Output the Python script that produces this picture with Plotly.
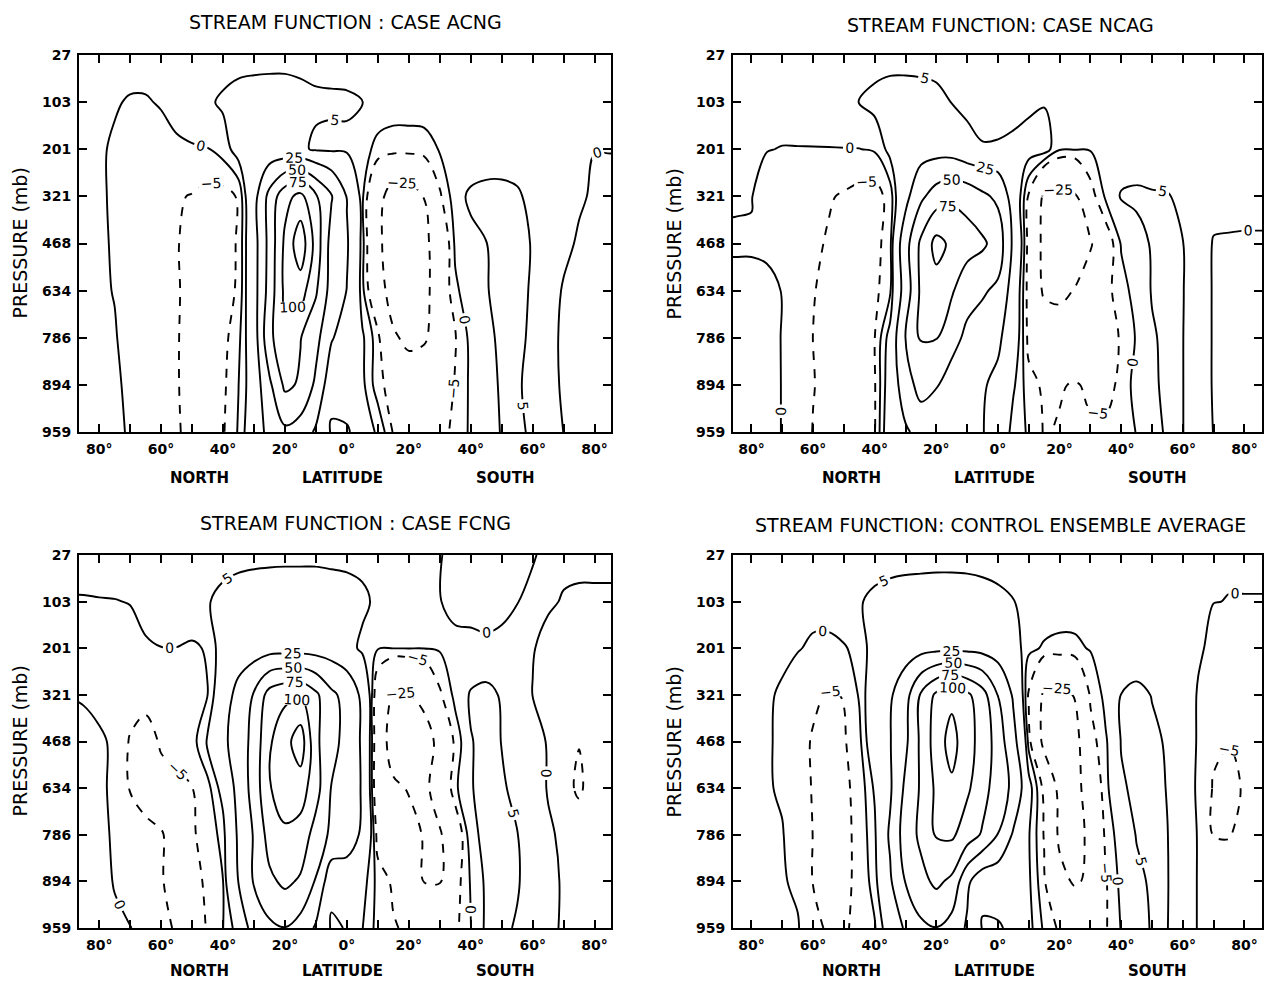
import plotly.graph_objects as go

# ---------------- data ----------------
LAT = list(range(-90, 95, 5))          # negative = North, positive = South
LEVEL_INDEX = list(range(9))           # model levels, equally spaced on the axis
PRESSURE_LABELS = ["27", "103", "201", "321", "468", "634", "786", "894", "959"]
LAT_TICKS = list(range(-80, 90, 10))
LAT_TICK_TEXT = ["80°", "", "60°", "", "40°", "", "20°", "", "0°", "",
                 "20°", "", "40°", "", "60°", "", "80°"]
LEVELS = [-25, -5, 0, 5, 25, 50, 75, 100, 125]

# stream function, rows = pressure levels (27 ... 959 mb),
# columns = LAT
ACNG = [
    [1, 1, 1, 1, 1, 1, 1, 1, 1, 1.5, 2, 2, 2, 2, 2, 2, 2, 2, 2,
     1.8, 1, 1, 1, 1, 1, 1, 1, 1, 1, 1, 1, 1, 1, 1, 1, 1, 1],
    [1, 1, 0.6, 0.2, -0.2, -0.2, 0.2, 1, 2, 4, 6, 8, 9, 9.5, 9.5, 8, 6.5, 6.2, 6,
     5.05, 3, 2, 2, 1.8, 1.6, 1.5, 1.4, 1.3, 1.3, 1.3, 1.2, 1.2, 1.1, 1, 1, 1, 1],
    [0.5, 0.5, 0.3, -0.3, -1, -1.5, -1, -0.5, -0.3, -0.2, 2, 8, 9, 10, 9, 7, 3.5, 3, 3.5,
     2, -1.5, -2, -2, -1.5, 0.3, 1, 1.2, 1.3, 1.4, 1.4, 1.3, 1.2, 1, 0.7, 0.05, 0.05, 0.05],
    [0.8, 0.8, 0.6, -0.6, -2, -3, -3.8, -4.5, -5.3, -7, -7, -4.5, 16, 58, 92, 107, 78, 52, 24,
     1, -18, -35, -34, -24.5, -6, 3, 6, 7, 7, 6, 3, 2, 1.5, 0.5, -0.5, -0.5, -0.5],
    [1, 0.8, 0.5, -0.3, -2, -3.5, -4.3, -4.8, -6, -7, -7.2, -4.5, 15, 58, 105, 142, 90, 40, 27,
     2, -20, -38, -38, -30, -14, 1, 3.5, 4.9, 6.5, 6.5, 4.7, 2.5, 1, -0.5, -0.8, -0.8, -0.8],
    [1, 0.8, 0.4, -0.1, -1.5, -3, -4, -4.7, -6, -7, -7.2, -4.3, 15, 60, 106, 112, 78, 40, 24.5,
     1.5, -15, -35, -37, -32, -12, -1, 3, 4.8, 6, 6, 4.6, 2, -0.4, -1, -1.2, -1, -1],
    [1, 0.9, 0.6, 0.2, -1, -2.8, -4, -4.8, -6, -6.8, -6.8, -1.5, 12, 70, 90, 76, 58, 27, 14,
     6, -3, -22, -30, -27, -17, -5.5, 1.5, 4, 5.8, 6, 4.2, 1.5, -0.8, -1.2, -1.3, -1.1, -1],
    [1, 0.9, 0.7, 0.4, -0.5, -2.5, -3.8, -4.8, -6, -6.5, -6.2, -0.1, 10, 45, 80, 72, 45, 9, 7.5,
     6.5, -3, -8, -12, -13, -10, -4.5, 1, 3.5, 5.5, 5.6, 3.6, 1.5, -0.6, -1.1, -1.2, -1, -1],
    [1, 0.9, 0.7, 0.4, -0.2, -2, -3.5, -4.7, -5.8, -6.2, -5.6, 0.5, 12, 32, 45, 38, 21.75, 3.5, 4.5,
     7, 4.5, -5.5, -6.5, -7, -6.5, -4, 1, 3.5, 5.2, 5.5, 4.6, 2, -0.05, -0.8, -1, -0.8, -0.8],
]

NCAG = [
    [0.8, 0.8, 0.8, 0.8, 0.8, 0.8, 0.8, 0.8, 1.2, 1.6, 2, 2.2, 2.3, 2.3, 2.2, 1.8, 1.5, 1.3, 1.2,
     1.1, 1, 1, 0.9, 0.8, 0.8, 0.8, 0.8, 0.8, 0.8, 0.8, 0.8, 0.8, 0.8, 0.8, 0.8, 0.8, 0.8],
    [1, 1, 1, 1, 1.2, 1.4, 1.6, 2, 3, 5.1, 7, 8.5, 8.5, 8, 7, 4.8, 3, 2, 2,
     2, 3.5, 4.6, 3, 2, 1.5, 1.4, 1.3, 1.2, 1.2, 1.2, 1.1, 1.1, 1, 1, 1, 1, 1],
    [0.5, 0.5, 0.3, 0.1, -0.1, -0.1, -0.1, -0.1, -0.1, -0.1, 0.5, 7, 12, 15, 16, 15, 8, 5.6, 5.8,
     7, 8, 8, 0.5, 0.3, 0.3, 0.8, 1.5, 1.8, 2, 2, 1.8, 1.5, 1.2, 1, 0.8, 0.8, 0.8],
    [0.2, 0.15, 0.1, -1.5, -2.5, -3, -3.6, -4.5, -5.6, -7, -7.5, -3, 18, 45, 62, 70, 66, 55, 45,
     14, -6, -28, -30, -27, -8, 1, 5.5, 6, 5.5, 5.3, 4, 2.5, 1.5, 1, 0.8, 0.8, 0.8],
    [-0.2, -0.2, -0.2, -0.3, -1, -2.5, -4, -5.5, -6.5, -7, -7.2, -2, 40, 80, 108, 95, 86, 79, 65,
     20, -8, -30, -36, -38, -27, -10, 0.5, 3, 5.5, 6, 5.1, 2.5, -0.3, -0.3, -0.3, -0.3, -0.3],
    [0.5, 0.5, 0.5, 0.4, -0.05, -2, -4.8, -6, -6.5, -6.8, -6.5, -1, 35, 80, 90, 78, 58, 53, 45,
     14, -8, -28, -30, -24, -14, -7, -2, 2, 5.3, 6, 5.2, 2, -0.3, -0.5, -0.5, -0.5, -0.5],
    [0.6, 0.6, 0.6, 0.4, -0.05, -2, -5.05, -6.2, -6.8, -7, -5.1, 8, 51, 77, 76, 58, 45, 37, 29,
     12, -7, -10, -13, -14, -13, -10, -4, 0.5, 4.5, 6, 5.1, 2, -0.3, -0.5, -0.5, -0.5, -0.5],
    [0.7, 0.7, 0.7, 0.5, -0.05, -2, -4.8, -6.5, -7, -7, -5.5, 10, 38, 60, 51, 40, 30, 27, 20,
     6, -3, -6, -5.5, -4.5, -6, -6.5, -4, 2.5, 4.6, 5.5, 5.1, 2, -0.3, -0.5, -0.5, -0.5, -0.5],
    [0.7, 0.7, 0.7, 0.5, -0.05, -2, -5.2, -6.5, -7, -7, -5.5, 12, 22, 32, 42, 38, 32, 26, 14,
     2, -0.5, -5.5, -4.5, -4, -4.2, -4, -2.5, 0.2, 4.5, 5.2, 5.1, 2, -0.1, -0.5, -0.5, -0.5, -0.5],
]

FCNG = [
    [0.3, 0.3, 0.5, 0.8, 1, 1.2, 1.4, 1.6, 1.8, 2, 2.3, 2.5, 2.8, 3, 3, 3, 3, 2.8, 2.6,
     2.2, 1.5, 1, 0.8, 0.5, 0.1, -0.5, -0.8, -1, -0.8, -0.5, -0.1, 0.3, 0.3, 0.3, 0.3, 0.3, 0.3],
    [-0.05, -0.05, -0.05, -0.05, 0.05, 0.8, 1.5, 2, 2.5, 4.5, 7, 9, 10, 10.5, 11, 11, 11, 10, 9,
     7, 3, 1.5, 1, 0.5, 0.1, -0.8, -1.5, -2, -1.5, -0.05, 0.3, 0.2, -0.1, -0.2, -0.2, -0.2, -0.2],
    [-0.8, -0.8, -0.8, -0.8, -0.6, -0.3, -0.05, -0.05, -0.5, 0.3, 9, 12, 14, 16, 16, 16, 15, 14, 9,
     3, 0.3, 0.1, 0.1, 0.1, 0.5, 0.8, 1.2, 1, 1.5, 1.5, 0.1, -0.5, -0.8, -1, -1, -1, -1],
    [-0.05, -0.3, -1.5, -2, -2.5, -3.5, -3, -2.5, -2, -0.1, 12.5, 33, 52, 85, 95, 98, 80, 55, 42,
     20, -12, -27, -26, -20, -6, 1.5, 5.5, 6.5, 4.5, 2.5, -0.05, -0.8, -1.5, -2, -2, -1.8, -1.8],
    [1, 1, 0.8, -0.8, -5.5, -7, -4.5, -3.5, -2.5, 6, 20, 36, 58, 97, 115, 140, 80, 58, 42,
     21.8, -13, -34, -36, -33, -20, -3, 4.8, 6, 4.9, 3, 1.5, -0.3, -4, -4.8, -2.5, -2, -2],
    [0.8, 0.8, 0.5, -0.5, -5.3, -6.5, -6.5, -6, -5.1, -2, 8, 32, 60, 98, 115, 112, 85, 49, 40,
     23, -14, -22, -26, -30, -15, -1, 4.8, 6, 6, 3, 1.5, -0.2, -3, -6, -2, -1.5, -1.5],
    [0.8, 0.8, 0.6, -0.3, -2.5, -4, -4.8, -6, -5.5, -3.5, 2, 28, 52, 85, 95, 90, 65, 45, 35,
     22, -8, -14, -20, -26, -27, -12, 3.5, 6.5, 6.5, 5.2, 2, 0.4, -0.5, -1.5, -1.5, -1.2, -1.2],
    [0.8, 0.8, 0.6, -0.1, -2, -3.5, -4.8, -6, -6, -4.5, -0.1, 25.5, 52, 70, 80, 72, 48, 8, 14,
     8, -2, -6, -12, -25.5, -26, -8, 0.5, 6, 6, 5.5, 2.5, 0.8, -0.3, -1, -1, -1, -1],
    [0.6, 0.6, 0.5, 0.3, 0.1, -1, -3, -5.8, -6.5, -4.8, -0.1, 8, 35, 45, 49.5, 40, 22, 3.5, 5.5,
     5.2, -2, -4.5, -6, -10, -10, -6.5, -0.1, 6, 6, 4.5, 2, 0.8, -0.4, -0.8, -0.8, -0.8, -0.8],
]

CONTROL = [
    [0.5, 0.5, 0.5, 0.5, 0.5, 0.5, 0.6, 0.8, 1, 1.5, 2, 2, 2, 2, 2, 2, 2, 1.8, 1.6,
     1.3, 1, 0.9, 0.8, 0.8, 0.7, 0.7, 0.6, 0.6, 0.6, 0.5, 0.5, 0.3, 0.2, 0.1, 0.1, 0.1, 0.1],
    [0.8, 0.8, 0.8, 0.8, 0.8, 0.8, 1, 1.5, 2.5, 4.5, 6.5, 8, 9, 9.5, 10, 10, 9.5, 8.5, 7,
     5.2, 3.5, 2.5, 2, 1.8, 1.6, 1.5, 1.4, 1.3, 1.2, 1, 0.8, 0.4, 0.02, -0.02, -0.02, -0.02, -0.02],
    [0.8, 0.8, 0.8, 0.7, 0.5, 0.2, -0.5, -0.8, -0.3, 1, 9, 12, 15, 17, 19, 20, 19, 17, 14,
     9, 1, -0.5, -1, -0.8, 0.3, 0.8, 1, 1.3, 1.4, 1.3, 1.1, 0.3, -0.5, -0.6, -0.6, -0.6, -0.6],
    [0.8, 0.8, 0.6, 0.3, -0.3, -2, -4, -5.5, -4.8, 0.5, 12, 22, 40, 78, 105, 118, 105, 85, 49.5,
     22, -6, -28, -30, -24, -4, 1.5, 5.1, 6.5, 4.8, 3, 1.5, -0.2, -1.5, -2, -2, -1.5, -1.5],
    [0.8, 0.8, 0.6, 0.3, -0.5, -3, -5.5, -7, -5.6, -1.5, 12, 24, 45, 80, 112, 135, 108, 92, 63,
     32, -2, -30, -35, -32, -8, -0.5, 5.2, 6.5, 6, 4.5, 2, -0.3, -4, -4.8, -3.5, -2.5, -2.5],
    [0.8, 0.8, 0.6, 0.3, -0.4, -3, -5.3, -7, -6, -3.5, 6, 22, 55, 78, 105, 120, 104, 85, 62,
     45, 8, -7, -30, -32, -15, -1, 4.5, 5.8, 6.5, 4.8, 2, -0.5, -5.5, -6.5, -4.5, -3, -3],
    [0.8, 0.8, 0.6, 0.4, 0.2, -2, -5.1, -7, -6.5, -3.5, 3.5, 28, 62, 80, 102, 104, 88, 72, 49.5,
     22, 5.5, -5.5, -28, -30, -22, -3, 2.5, 5.2, 6.5, 5.1, 2, -0.2, -5.2, -5.3, -3.5, -2.5, -2.5],
    [0.8, 0.8, 0.7, 0.5, 0.3, -0.6, -5.2, -6.5, -6.5, -3.5, 2, 22, 51, 68, 80, 70, 30, 8, 7.5,
     8, 6, -4, -20, -27, -22, -5.5, 1.5, 4.2, 5.5, 5.2, 2, -0.2, -1.5, -2, -2, -1.8, -1.8],
    [0.7, 0.7, 0.6, 0.4, 0.2, 0.3, -3, -6, -6, -3, -0.5, 10, 28, 45, 49.5, 40, 22, 4, 4.5,
     6, 7, -1, -6, -8, -8, -5.5, 0.3, 3.5, 5.3, 5.1, 2, -0.2, -1, -1.5, -1.5, -1.3, -1.3],
]

TITLES = ["STREAM FUNCTION : CASE ACNG", "STREAM FUNCTION: CASE NCAG",
          "STREAM FUNCTION : CASE FCNG", "STREAM FUNCTION: CONTROL ENSEMBLE AVERAGE"]

# ---------------- layout geometry (pixels of the 1264 x 982 page) ----------------
W, H = 1264, 982
TOP_OFF, PLOT_H = 8.0, 966.0     # vertical placement observed for the rendered page


def px_x(px):
    return px / W


def px_y(px):
    return 1 - (px - TOP_OFF) / PLOT_H


PANELS = [  # (data, left, right, top, bottom, xrange, title centre x, title y)
    (ACNG, 79, 611, 55, 432, [-86.5, 85.3], 345, 22),
    (NCAG, 733, 1262, 55, 432, [-86.0, 85.7], 1000, 25),
    (FCNG, 79, 611, 555, 928, [-86.5, 85.3], 355, 523),
    (CONTROL, 733, 1262, 555, 928, [-86.0, 85.7], 1000, 525),
]

FONT = "DejaVu Sans"
fig = go.Figure()
layout = dict(width=W, height=H, margin=dict(l=0, r=0, t=0, b=0, pad=0), autosize=False,
              paper_bgcolor="white", plot_bgcolor="white", showlegend=False,
              annotations=[])

for i, (data, left, right, top, bottom, xr, tx, ty) in enumerate(PANELS):
    n = "" if i == 0 else str(i + 1)
    xa, ya = "x" + n, "y" + n
    for lev in LEVELS:
        fig.add_trace(go.Contour(
            x=LAT, y=LEVEL_INDEX, z=data, xaxis=xa, yaxis=ya,
            autocontour=False,
            contours=dict(start=lev, end=lev, size=1, coloring="none",
                          showlabels=True,
                          labelfont=dict(family=FONT, size=14, color="black")),
            line=dict(color="black", width=1.9,
                      dash="dash" if lev < 0 else "solid", smoothing=1.0),
            showscale=False, hoverinfo="skip"))
    axis_common = dict(showline=True, linecolor="black", linewidth=2, mirror="ticks",
                       ticks="inside", ticklen=8, tickwidth=2, tickcolor="black",
                       showgrid=False, zeroline=False, ticklabelstandoff=3,
                       tickfont=dict(family=FONT, size=14, color="black", weight="bold"))
    layout["xaxis" + n] = dict(domain=[px_x(left), px_x(right)], range=xr,
                               tickvals=LAT_TICKS, ticktext=LAT_TICK_TEXT,
                               anchor=ya, **axis_common)
    layout["yaxis" + n] = dict(domain=[px_y(bottom), px_y(top)], range=[8, 0],
                               tickvals=LEVEL_INDEX, ticktext=PRESSURE_LABELS,
                               anchor=xa, **axis_common)
    ann = layout["annotations"]
    ann.append(dict(text=TITLES[i], x=px_x(tx), y=px_y(ty), xref="paper", yref="paper",
                    showarrow=False, xanchor="center", yanchor="middle",
                    font=dict(family=FONT, size=19, color="black")))
    mid = (left + right) / 2
    for word, dx in (("NORTH", -146), ("LATITUDE", -3), ("SOUTH", 160)):
        ann.append(dict(text=word, x=px_x(mid + dx), y=px_y(min(bottom + 46, 971)),
                        xref="paper", yref="paper", showarrow=False,
                        xanchor="center", yanchor="middle",
                        font=dict(family=FONT, size=15, color="black", weight="bold")))
    ann.append(dict(text="PRESSURE (mb)", x=px_x(left - 60), y=px_y((top + bottom) / 2),
                    xref="paper", yref="paper", showarrow=False, textangle=-90,
                    xanchor="center", yanchor="middle",
                    font=dict(family=FONT, size=19, color="black")))

fig.update_layout(**layout)
RESET_CSS = ("var s=document.createElement('style');"
             "s.innerHTML='html,body{margin:0!important;padding:0!important;"
             "overflow:hidden;width:1264px;height:982px;}"
             "body>div{margin:0;padding:0;line-height:0;}';"
             "document.head.appendChild(s);")
fig.write_html("out.html", config={"displayModeBar": False}, post_script=RESET_CSS)
